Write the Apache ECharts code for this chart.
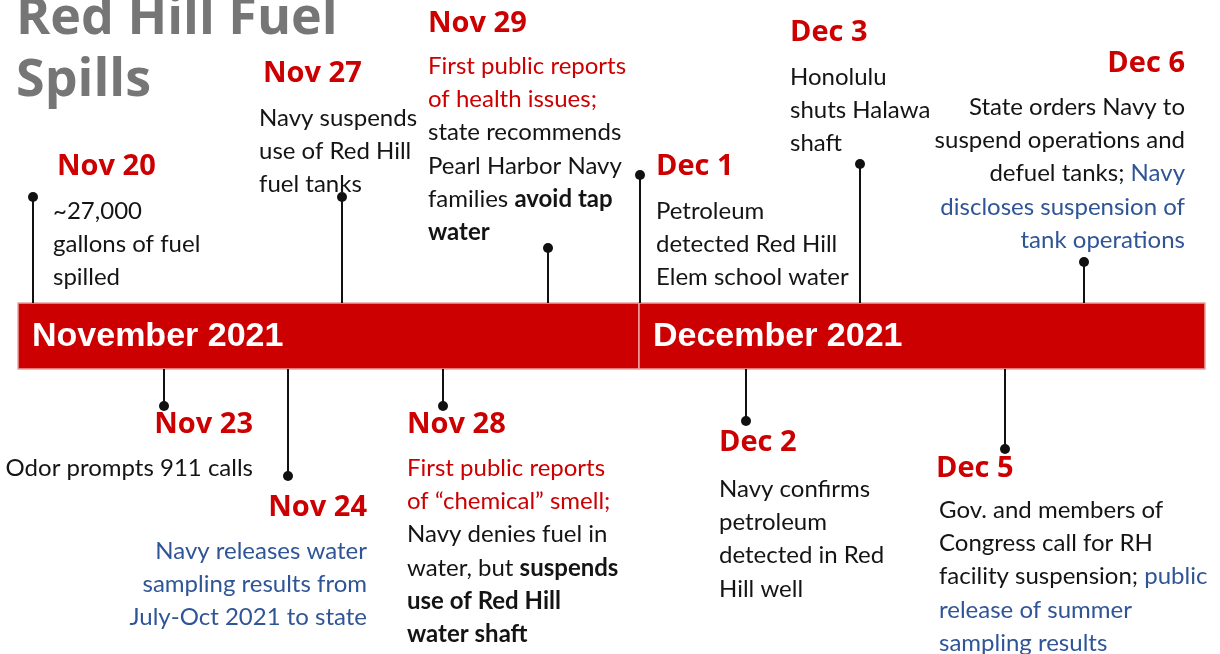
<!DOCTYPE html>
<html>
<head>
<meta charset="utf-8">
<script src="https://cdn.jsdelivr.net/npm/echarts@6/dist/echarts.min.js"></script>
<style>
  html, body { margin: 0; padding: 0; background: #fff; }
  #chart { width: 1220px; height: 654px; }
</style>
</head>
<body>
<div id="chart"></div>
<script>
// 事件数据
const eventDates = ['Nov 20', 'Nov 23', 'Nov 24', 'Nov 27', 'Nov 28', 'Nov 29', 'Dec 1', 'Dec 2', 'Dec 3', 'Dec 5', 'Dec 6'];
const eventSide = ['up', 'down', 'down', 'up', 'down', 'up', 'up', 'down', 'up', 'down', 'up'];
// place of each event along the strip (strip units)
const eventPos = [33, 164, 288, 342, 443, 548, 640, 746, 860, 1005, 1084];
// where each stem ends (strip units, 0 = top)
const stemEnd = [197, 406, 476, 197, 406, 248, 175, 421, 164, 449, 262];
const eventNotes = [
  '{k|~27,000}\n{k|gallons of fuel}\n{k|spilled}',
  '{k|Odor prompts 911 calls}',
  '{u|Navy releases water}\n{u|sampling results from}\n{u|July-Oct 2021 to state}',
  '{k|Navy suspends}\n{k|use of Red Hill}\n{k|fuel tanks}',
  '{r|First public reports}\n{r|of “chemical” smell;}\n{k|Navy denies fuel in}\n{k|water, but }{b|suspends}\n{b|use of Red Hill}\n{b|water shaft}',
  '{r|First public reports}\n{r|of health issues;}\n{k|state recommends}\n{k|Pearl Harbor Navy}\n{k|families }{b|avoid tap}\n{b|water}',
  '{k|Petroleum}\n{k|detected Red Hill}\n{k|Elem school water}',
  '{k|Navy confirms}\n{k|petroleum}\n{k|detected in Red}\n{k|Hill well}',
  '{k|Honolulu}\n{k|shuts Halawa}\n{k|shaft}',
  '{k|Gov. and members of}\n{k|Congress call for RH}\n{k|facility suspension; }{u|public}\n{u|release of summer}\n{u|sampling results}',
  '{k|State orders Navy to}\n{k|suspend operations and}\n{k|defuel tanks; }{u|Navy}\n{u|discloses suspension of}\n{u|tank operations}'
];
const months = ['November 2021', 'December 2021'];
const monthStart = [18, 639];
const monthEnd = [639, 1205];
const titleLines = ['Red Hill Fuel', 'Spills'];

// label placement: [headingX, headingY, bodyX, bodyY, align]
const labelBox = [
  [57, 165, 53, 211, 'left'],
  [253, 423, 253, 468, 'right'],
  [367, 506, 367, 551, 'right'],
  [263, 72, 259, 118, 'left'],
  [407, 423, 407, 468, 'left'],
  [428, 22, 428, 66, 'left'],
  [656, 165, 656, 211, 'left'],
  [719, 441, 719, 489, 'left'],
  [790, 31, 790, 77, 'left'],
  [936, 467, 939, 510, 'left'],
  [1185, 62, 1185, 107, 'right']
];

const RED = '#cc0000';
const BLUE = '#2f5597';
const INK = '#141414';
const BAR_TOP = 303;
const BAR_BOTTOM = 369;
const LINE_H = 33.3;

const bodyRich = {
  k: { fontFamily: 'Lato', fontSize: 24, fill: INK, lineHeight: LINE_H },
  b: { fontFamily: 'Lato', fontSize: 24, fontWeight: 'bold', fill: INK, lineHeight: LINE_H },
  r: { fontFamily: 'Lato', fontSize: 24, fill: RED, lineHeight: LINE_H },
  u: { fontFamily: 'Lato', fontSize: 24, fill: BLUE, lineHeight: LINE_H }
};

const chart = echarts.init(document.getElementById('chart'));

const option = {
  animation: false,
  backgroundColor: '#fff',
  grid: { left: 0, right: 0, top: 0, bottom: 0 },
  xAxis: { type: 'value', min: 0, max: 1220, show: false },
  yAxis: { type: 'value', min: 0, max: 654, inverse: true, show: false },
  graphic: [
    {
      type: 'text',
      left: 16,
      top: -12,
      style: {
        text: titleLines.join('\n'),
        font: 'bold 52px "Open Sans"',
        lineHeight: 62,
        fill: '#767676'
      }
    }
  ],
  series: [
    {
      type: 'custom',
      name: 'months',
      data: months.map((m, i) => [monthStart[i], monthEnd[i], m]),
      renderItem: (params, api) => {
        const p0 = api.coord([api.value(0), BAR_TOP]);
        const p1 = api.coord([api.value(1), BAR_BOTTOM]);
        const label = months[params.dataIndex];
        return {
          type: 'group',
          children: [
            {
              type: 'rect',
              shape: { x: p0[0], y: p0[1], width: p1[0] - p0[0], height: p1[1] - p0[1] },
              style: { fill: RED, stroke: '#eba3a3', lineWidth: 1.5 }
            },
            {
              type: 'text',
              style: {
                text: label,
                x: p0[0] + 14,
                y: (p0[1] + p1[1]) / 2 + 1,
                verticalAlign: 'middle',
                font: 'bold 34px "Liberation Sans", Arial',
                fill: '#fff'
              }
            }
          ]
        };
      },
      z: 2
    },
    {
      type: 'custom',
      name: 'events',
      data: eventPos.map((p, i) => [p, stemEnd[i]]),
      renderItem: (params, api) => {
        const i = params.dataIndex;
        const up = eventSide[i] === 'up';
        const base = api.coord([api.value(0), up ? BAR_TOP : BAR_BOTTOM]);
        const tip = api.coord([api.value(0), api.value(1)]);
        const box = labelBox[i];
        const h = api.coord([box[0], box[1]]);
        const b = api.coord([box[2], box[3]]);
        return {
          type: 'group',
          children: [
            {
              type: 'line',
              shape: { x1: base[0], y1: base[1], x2: tip[0], y2: tip[1] },
              style: { stroke: '#111', lineWidth: 2 },
              z2: 5
            },
            {
              type: 'circle',
              shape: { cx: tip[0], cy: tip[1], r: 5 },
              style: { fill: '#111' },
              z2: 6
            },
            {
              type: 'text',
              style: {
                text: eventDates[i],
                x: h[0],
                y: h[1] + 2,
                align: box[4],
                verticalAlign: 'middle',
                font: 'bold 29px "Open Sans"',
                fill: RED
              }
            },
            {
              type: 'text',
              style: {
                text: eventNotes[i],
                x: b[0],
                y: b[1] - LINE_H / 2,
                align: box[4],
                verticalAlign: 'top',
                rich: bodyRich
              }
            }
          ]
        };
      },
      z: 3
    }
  ]
};

chart.setOption(option);
window.onresize = function() {
  chart.resize();
};
</script>
</body>
</html>
